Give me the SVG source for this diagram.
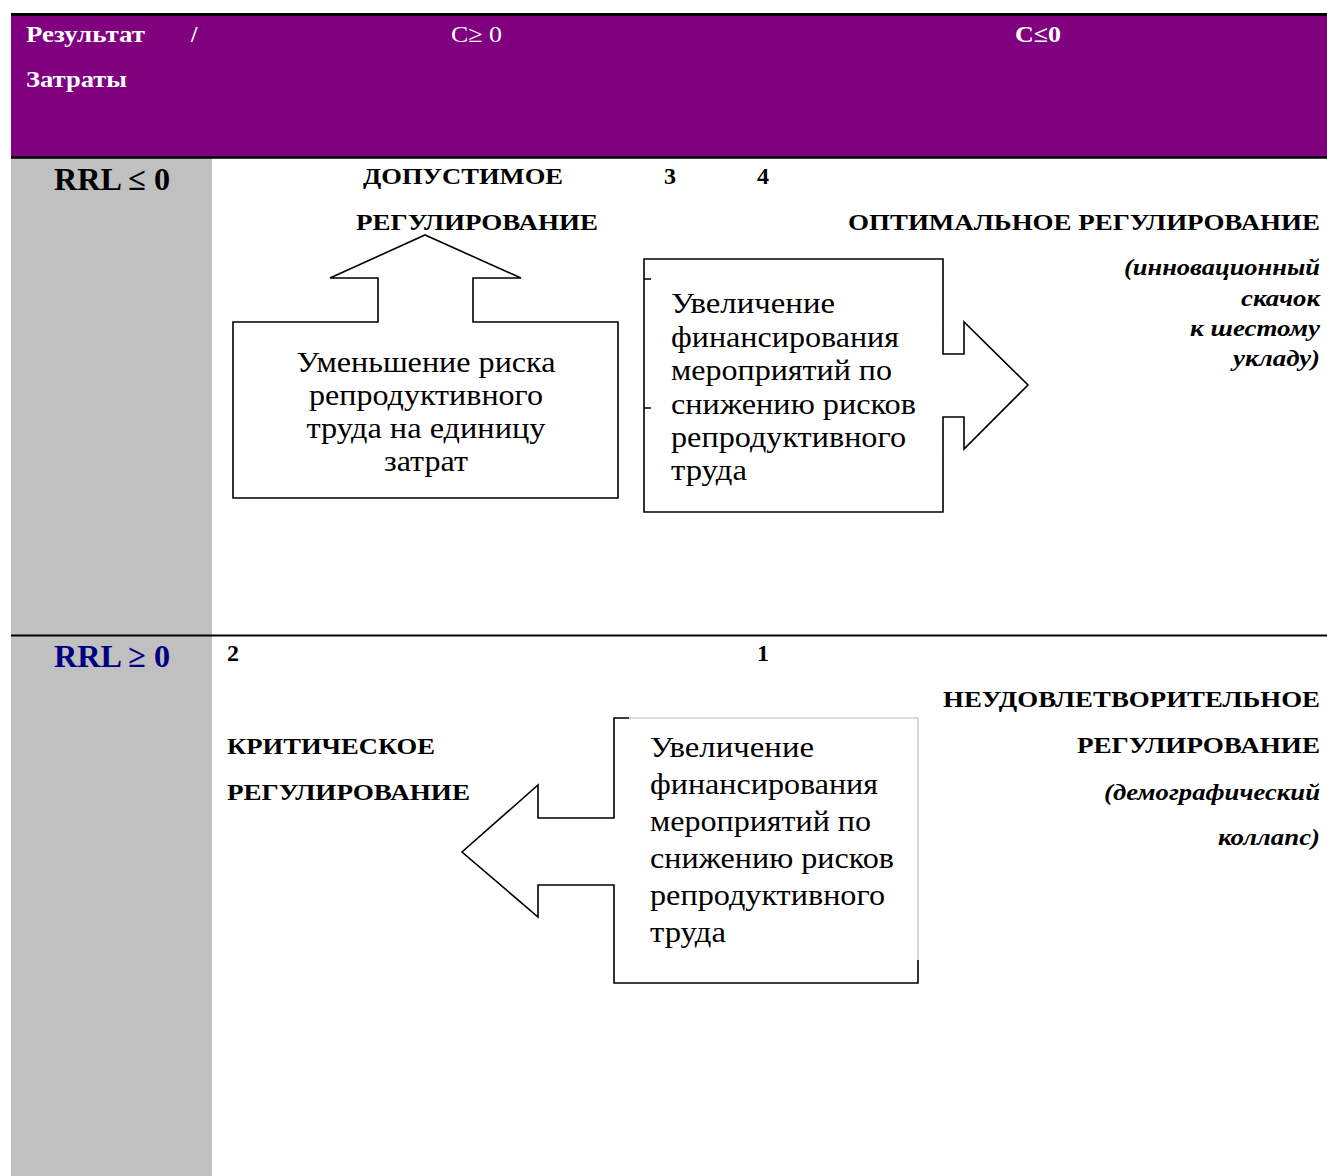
<svg xmlns="http://www.w3.org/2000/svg" width="1327" height="1176" viewBox="0 0 1327 1176">
<style>
.hb{font-family:"Liberation Serif","DejaVu Serif",serif;font-weight:bold;font-size:23px;fill:#fff}
.hn{font-family:"Liberation Serif","DejaVu Serif",serif;font-size:23px;fill:#fff}
.rr{font-family:"Liberation Serif","DejaVu Serif",serif;font-weight:bold;font-size:32px}
.lb{font-family:"Liberation Serif","DejaVu Serif",serif;font-weight:bold;font-size:24px;fill:#000}
.it{font-family:"Liberation Serif","DejaVu Serif",serif;font-weight:bold;font-style:italic;font-size:24px;fill:#000}
.bt{font-family:"Liberation Serif","DejaVu Serif",serif;font-size:29px;fill:#000}
.sh{fill:#fff;stroke:#000;stroke-width:1.6}
.ed{fill:none;stroke:#000;stroke-width:1.6}
</style>
<rect x="0" y="0" width="1327" height="1176" fill="#fff"/>
<g id="grid">
<rect x="11" y="15" width="1316" height="142" fill="#800080"/>
<line x1="11" y1="14.5" x2="1327" y2="14.5" stroke="#000" stroke-width="3"/>
<rect x="11" y="158" width="201" height="1018" fill="#c0c0c0"/>
<line x1="11" y1="157.5" x2="1327" y2="157.5" stroke="#000" stroke-width="2.5"/>
<line x1="11" y1="635.5" x2="1327" y2="635.5" stroke="#000" stroke-width="2"/>
</g>
<g id="header">
<text class="hb" x="26" y="42" textLength="119" lengthAdjust="spacingAndGlyphs">Результат</text>
<text class="hb" x="191" y="42">/</text>
<text class="hb" x="26" y="87" textLength="101" lengthAdjust="spacingAndGlyphs">Затраты</text>
<text class="hn" x="451" y="42" textLength="51" lengthAdjust="spacingAndGlyphs">C≥ 0</text>
<text class="hb" x="1015" y="42" textLength="46" lengthAdjust="spacingAndGlyphs">C≤0</text>
</g>
<g id="row-labels">
<text class="rr" x="54" y="190" fill="#000" textLength="116" lengthAdjust="spacingAndGlyphs">RRL ≤ 0</text>
<text class="rr" x="54" y="667" fill="#000080" textLength="116" lengthAdjust="spacingAndGlyphs">RRL ≥ 0</text>
</g>
<g id="quadrant-3">
<text class="lb" x="363" y="184" textLength="200" lengthAdjust="spacingAndGlyphs">ДОПУСТИМОЕ</text>
<text class="lb" x="356" y="230" textLength="242" lengthAdjust="spacingAndGlyphs">РЕГУЛИРОВАНИЕ</text>
<text class="lb" x="664" y="184">3</text>
</g>
<g id="quadrant-4">
<text class="lb" x="757" y="184">4</text>
<text class="lb" x="1320" y="230" text-anchor="end" textLength="472" lengthAdjust="spacingAndGlyphs">ОПТИМАЛЬНОЕ РЕГУЛИРОВАНИЕ</text>
<text class="it" x="1320" y="275" text-anchor="end" textLength="196" lengthAdjust="spacingAndGlyphs">(инновационный</text>
<text class="it" x="1320" y="306" text-anchor="end" textLength="79" lengthAdjust="spacingAndGlyphs">скачок</text>
<text class="it" x="1320" y="336" text-anchor="end" textLength="130" lengthAdjust="spacingAndGlyphs">к шестому</text>
<text class="it" x="1320" y="366" text-anchor="end" textLength="87" lengthAdjust="spacingAndGlyphs">укладу)</text>
</g>
<g id="quadrant-2">
<text class="lb" x="227" y="661">2</text>
<text class="lb" x="227" y="754" textLength="208" lengthAdjust="spacingAndGlyphs">КРИТИЧЕСКОЕ</text>
<text class="lb" x="227" y="800" textLength="243" lengthAdjust="spacingAndGlyphs">РЕГУЛИРОВАНИЕ</text>
</g>
<g id="quadrant-1">
<text class="lb" x="757" y="661">1</text>
<text class="lb" x="1320" y="707" text-anchor="end" textLength="377" lengthAdjust="spacingAndGlyphs">НЕУДОВЛЕТВОРИТЕЛЬНОЕ</text>
<text class="lb" x="1320" y="753" text-anchor="end" textLength="243" lengthAdjust="spacingAndGlyphs">РЕГУЛИРОВАНИЕ</text>
<text class="it" x="1320" y="800" text-anchor="end" textLength="216" lengthAdjust="spacingAndGlyphs">(демографический</text>
<text class="it" x="1320" y="845" text-anchor="end" textLength="102" lengthAdjust="spacingAndGlyphs">коллапс)</text>
</g>
<g id="connectors">
<g id="arrow-up">
<path class="sh" d="M233,322 H378 V278 H330 L425,235 L521,278 H473 V322 H618 V498 H233 Z"/>
<text class="bt" x="426" y="372" text-anchor="middle" textLength="259" lengthAdjust="spacingAndGlyphs">Уменьшение риска</text>
<text class="bt" x="426" y="405" text-anchor="middle" textLength="234" lengthAdjust="spacingAndGlyphs">репродуктивного</text>
<text class="bt" x="426" y="438" text-anchor="middle" textLength="239" lengthAdjust="spacingAndGlyphs">труда на единицу</text>
<text class="bt" x="426" y="471" text-anchor="middle" textLength="84" lengthAdjust="spacingAndGlyphs">затрат</text>
</g>
<g id="arrow-right">
<path class="sh" d="M644,259 H943 V354 H964 V322 L1028,385 L964,449 V417 H943 V512 H644 Z"/>
<path class="ed" d="M644,279 H651 M644,408 H651"/>
<text class="bt" x="671" y="313" textLength="164" lengthAdjust="spacingAndGlyphs">Увеличение</text>
<text class="bt" x="671" y="347" textLength="228" lengthAdjust="spacingAndGlyphs">финансирования</text>
<text class="bt" x="671" y="380" textLength="221" lengthAdjust="spacingAndGlyphs">мероприятий по</text>
<text class="bt" x="671" y="414" textLength="245" lengthAdjust="spacingAndGlyphs">снижению рисков</text>
<text class="bt" x="671" y="447" textLength="235" lengthAdjust="spacingAndGlyphs">репродуктивного</text>
<text class="bt" x="671" y="480" textLength="76" lengthAdjust="spacingAndGlyphs">труда</text>
</g>
<g id="arrow-left">
<path d="M614,718 H918 V983 H614 V885 H538 V917 L462,852 L538,785 V818 H614 Z" fill="#fff" stroke="none"/>
<path class="ed" d="M629,718 H614 V818 H538 V785 L462,852 L538,917 V885 H614 V983 H918 V960"/>
<path d="M629,718 H918 V960" fill="none" stroke="#bbb" stroke-width="1.2"/>
<text class="bt" x="650" y="757" textLength="164" lengthAdjust="spacingAndGlyphs">Увеличение</text>
<text class="bt" x="650" y="794" textLength="228" lengthAdjust="spacingAndGlyphs">финансирования</text>
<text class="bt" x="650" y="831" textLength="221" lengthAdjust="spacingAndGlyphs">мероприятий по</text>
<text class="bt" x="650" y="868" textLength="244" lengthAdjust="spacingAndGlyphs">снижению рисков</text>
<text class="bt" x="650" y="905" textLength="235" lengthAdjust="spacingAndGlyphs">репродуктивного</text>
<text class="bt" x="650" y="942" textLength="76" lengthAdjust="spacingAndGlyphs">труда</text>
</g>
</g>
</svg>
